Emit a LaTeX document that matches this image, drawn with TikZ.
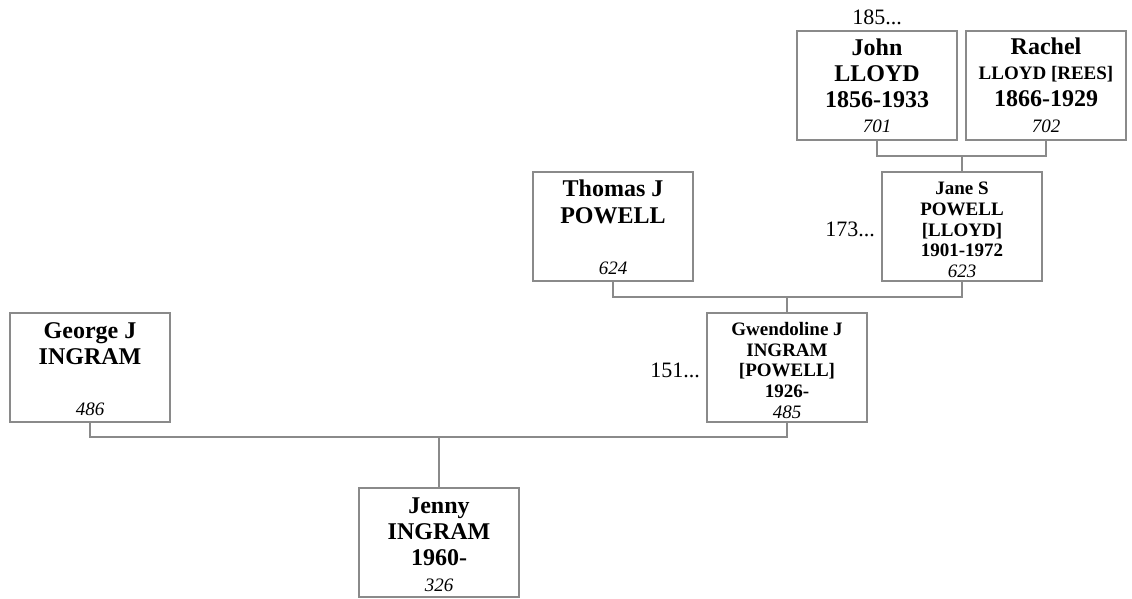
\documentclass[tikz,border=0pt]{standalone}
\usepackage{fontspec}
\setmainfont{Liberation Serif}
\definecolor{linegray}{HTML}{8A8A8A}
\newcommand\txtline[4]{\node[anchor=base,#1] (#2) at (#3) {#4};}
\begin{document}
\begin{tikzpicture}[x=1pt,y=-1pt,
  person/.style={draw=linegray, line width=1.2pt, minimum width=160pt, minimum height=109pt, inner sep=0pt, fill=white},
  big/.style={font=\fontsize{24}{26}\selectfont\bfseries, inner sep=0pt},
  small/.style={font=\fontsize{19}{21}\selectfont\bfseries, inner sep=0pt},
  num/.style={font=\fontsize{19}{21}\selectfont\itshape, inner sep=0pt},
  gen/.style={font=\fontsize{22}{24}\selectfont, inner sep=0pt},
  link/.style={draw=linegray, line width=1.2pt}]
\useasboundingbox (0,0) rectangle (1132,599);
\fill[white] (0,0) rectangle (1132,599);

% boxes
\node[person] (john)   at (877,85.5) {};
\node[person] (rachel) at (1046,85.5) {};
\node[person] (thomas) at (613,226.5) {};
\node[person] (jane)   at (962,226.5) {};
\node[person] (george) at (90,367.5) {};
\node[person] (gwen)   at (787,367.5) {};
\node[person] (jenny)  at (439,542.5) {};

% connectors
\coordinate (jr) at (962,156);
\coordinate (tg) at (787,297);
\coordinate (gj) at (439,437);
\draw[link] (john.south) |- (jr) -| (rachel.south);
\draw[link] (jr) -- (jane.north);
\draw[link] (thomas.south) |- (tg) -| (jane.south);
\draw[link] (tg) -- (gwen.north);
\draw[link] (george.south) |- (gj) -| (gwen.south);
\draw[link] (gj) -- (jenny.north);

% John
\txtline{big}{john1}{877,56}{John}
\txtline{big}{john2}{877,82}{LLOYD}
\txtline{big}{john3}{877,108}{1856-1933}
\txtline{num}{john4}{877,133}{701}
% Rachel
\txtline{big}{rachel1}{1046,55}{Rachel}
\txtline{small}{rachel2}{1046,80}{LLOYD [REES]}
\txtline{big}{rachel3}{1046,107}{1866-1929}
\txtline{num}{rachel4}{1046,133}{702}
% Thomas
\txtline{big}{thomas1}{613,196}{Thomas J}
\txtline{big}{thomas2}{613,223}{POWELL}
\txtline{num}{thomas3}{613,274}{624}
% Jane
\txtline{small}{jane1}{962,194}{Jane S}
\txtline{small}{jane2}{962,215}{POWELL}
\txtline{small}{jane3}{962,236}{[LLOYD]}
\txtline{small}{jane4}{962,256}{1901-1972}
\txtline{num}{jane5}{962,277}{623}
% George
\txtline{big}{george1}{90,338}{George J}
\txtline{big}{george2}{90,364}{INGRAM}
\txtline{num}{george3}{90,415}{486}
% Gwendoline
\txtline{small}{gwen1}{787,335}{Gwendoline J}
\txtline{small}{gwen2}{787,356}{INGRAM}
\txtline{small}{gwen3}{787,376}{[POWELL]}
\txtline{small}{gwen4}{787,397}{1926-}
\txtline{num}{gwen5}{787,418}{485}
% Jenny
\txtline{big}{jenny1}{439,513}{Jenny}
\txtline{big}{jenny2}{439,539}{INGRAM}
\txtline{big}{jenny3}{439,565}{1960-}
\txtline{num}{jenny4}{439,591}{326}

% generation labels
\txtline{gen}{g185}{877,25}{185...}
\txtline{gen,anchor=base east}{g173}{875,236}{173...}
\txtline{gen,anchor=base east}{g151}{700,377}{151...}
\end{tikzpicture}
\end{document}
